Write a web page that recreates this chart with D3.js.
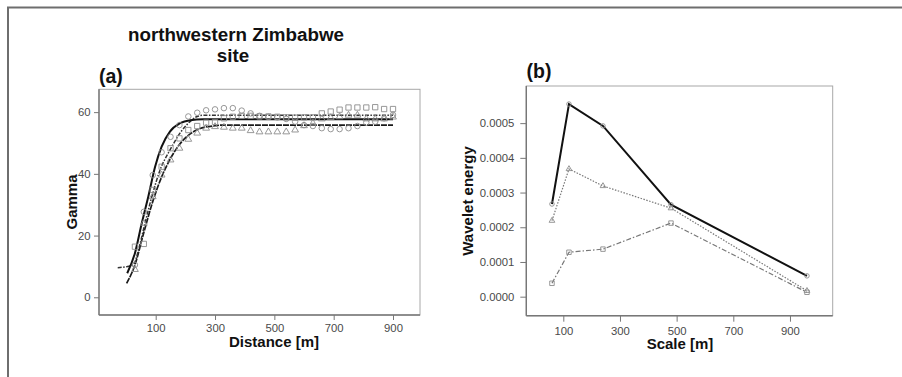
<!DOCTYPE html>
<html>
<head>
<meta charset="utf-8">
<script src="https://cdn.jsdelivr.net/npm/d3@7"></script>
<style>
  body { margin: 0; background: #fff; }
  svg { display: block; }
  text { font-family: Arial, "Liberation Sans", sans-serif; }
</style>
</head>
<body>
<svg id="chart" width="902" height="377"></svg>
<script>
// ---- Panel (a): empirical semivariograms and fitted models ----
const lagDistance = [30, 60, 90, 120, 150, 180, 210, 240, 270, 300,
                     330, 360, 390, 420, 450, 480, 510, 540, 570, 600,
                     630, 660, 690, 720, 750, 780, 810, 840, 870, 900];
const gammaCircle = [10.5, 27.7, 39.6, 47.0, 52.0, 55.8, 58.6, 59.8, 60.6, 60.9,
                     61.3, 61.3, 60.5, 59.6, 58.8, 58.5, 58.3, 57.8, 56.9, 55.8,
                     55.5, 54.8, 54.5, 54.5, 54.8, 55.5, 56.6, 56.9, 58.0, 59.1];
const gammaSquare = [16.4, 17.3, 34.8, 42.3, 48.3, 51.5, 54.2, 55.5, 56.6, 56.8,
                     58.0, 58.5, 58.8, 58.8, 58.6, 58.6, 58.5, 58.3, 58.2, 58.3,
                     58.3, 59.6, 60.2, 60.8, 61.5, 61.5, 61.5, 61.6, 61.0, 61.0];
const gammaTriangle = [9.0, 24.0, 32.6, 39.6, 44.5, 48.3, 51.2, 53.2, 54.8, 55.3,
                       55.1, 54.8, 54.8, 54.0, 53.6, 53.6, 53.6, 53.6, 54.2, 55.6,
                       56.4, 57.8, 58.2, 58.5, 59.0, 59.0, 57.8, 57.8, 57.8, 58.4];
// fitted model curves, [distance, gamma]
const fitCircle = [[4, 7.8], [30, 14.3], [53, 24], [75, 32.6], [98, 42.3], [120, 48.8],
                   [148, 53.7], [182, 56.4], [216, 57.4], [260, 57.7], [900, 57.7]];
const fitSquare = [[-28, 9.6], [0, 9.9], [25, 10.6], [45, 16.5], [64, 24], [87, 32.6],
                   [115, 41.3], [148, 47.7], [182, 53.2], [210, 56.4], [238, 58.5],
                   [262, 59.0], [900, 59.0]];
const fitTriangle = [[2, 4.5], [30, 10.5], [60, 21], [90, 31], [120, 39], [150, 45],
                     [180, 49.5], [210, 52.5], [240, 54.3], [270, 55.2], [300, 55.6],
                     [324, 55.8], [900, 55.8]];
const distTicks = [100, 300, 500, 700, 900];
const gammaTicks = [0, 20, 40, 60];

// ---- Panel (b): wavelet energy by scale ----
const scaleM = [60, 120, 240, 480, 960];
const energyCircle = [0.000267, 0.000555, 0.000492, 0.000265, 0.000060];
const energyTriangle = [0.000219, 0.000368, 0.000319, 0.000255, 0.000017];
const energySquare = [0.0000386, 0.000128, 0.000137, 0.000212, 0.0000127];
const scaleTicks = [100, 300, 500, 700, 900];
const energyTicks = [0, 0.0001, 0.0002, 0.0003, 0.0004, 0.0005];

const svg = d3.select("#chart");
svg.append("rect").attr("width", 902).attr("height", 377).attr("fill", "#fff");

// outer frame (top and left edges)
svg.append("path").attr("d", "M8,377V7.5H902")
  .attr("fill", "none").attr("stroke", "#6e6e6e").attr("stroke-width", 2);

const ptColor = "#8c8c8c";
const symCircle = d3.symbol().type(d3.symbolCircle).size(24);
const symSquare = d3.symbol().type(d3.symbolSquare).size(28);
const symTriangle = d3.symbol().type(d3.symbolTriangle).size(20);

function frame(g, box, x, y, xt, yt, yfmt, tickLen, yPad, xPad) {
  g.append("rect")
    .attr("x", box.l).attr("y", box.t)
    .attr("width", box.r - box.l).attr("height", box.b - box.t)
    .attr("fill", "none").attr("stroke", "#a8a8a8").attr("stroke-width", 1);
  g.append("line").attr("x1", box.l).attr("x2", box.l).attr("y1", box.t).attr("y2", box.b)
    .attr("stroke", "#777").attr("stroke-width", 1.4);
  g.append("line").attr("x1", box.l).attr("x2", box.r).attr("y1", box.b).attr("y2", box.b)
    .attr("stroke", "#777").attr("stroke-width", 1.4);

  const ax = g.append("g").attr("transform", `translate(0,${box.b})`)
    .call(d3.axisBottom(x).tickValues(xt).tickSize(tickLen).tickPadding(xPad).tickFormat(d3.format("d")));
  const ay = g.append("g").attr("transform", `translate(${box.l},0)`)
    .call(d3.axisLeft(y).tickValues(yt).tickSize(tickLen).tickPadding(yPad).tickFormat(yfmt));
  [ax, ay].forEach(a => {
    a.select(".domain").remove();
    a.selectAll(".tick line").attr("stroke", "#777");
    a.selectAll(".tick text").attr("fill", "#4a4a4a").attr("font-size", 11.3)
      .attr("font-family", "Arial, 'Liberation Sans', sans-serif");
  });
}

// ---------- panel (a) ----------
const boxA = { l: 99, r: 420, t: 89.3, b: 315 };
const xA = d3.scaleLinear().domain([-91.1, 991]).range([boxA.l, boxA.r]);
const yA = d3.scaleLinear().domain([-5.74, 67.4]).range([boxA.b, boxA.t]);
const gA = svg.append("g");
frame(gA, boxA, xA, yA, distTicks, gammaTicks, d3.format("d"), 5, 3.5, 4);

const lineA = d3.line().x(d => xA(d[0])).y(d => yA(d[1])).curve(d3.curveMonotoneX);
gA.append("path").datum(fitTriangle).attr("d", lineA)
  .attr("fill", "none").attr("stroke", "#1a1a1a").attr("stroke-width", 1.7)
  .attr("stroke-dasharray", "6,1");
gA.append("path").datum(fitSquare).attr("d", lineA)
  .attr("fill", "none").attr("stroke", "#333").attr("stroke-width", 1.5)
  .attr("stroke-dasharray", "4,1.5,1.5,1.5");
gA.append("path").datum(fitCircle).attr("d", lineA)
  .attr("fill", "none").attr("stroke", "#111").attr("stroke-width", 2);

function pts(g, xs, ys, sym, x, y) {
  g.append("g").selectAll("path").data(xs.map((d, i) => [d, ys[i]])).join("path")
    .attr("d", sym)
    .attr("transform", d => `translate(${x(d[0])},${y(d[1])})`)
    .attr("fill", "none").attr("stroke", ptColor).attr("stroke-width", 0.9);
}
pts(gA, lagDistance, gammaCircle, symCircle, xA, yA);
pts(gA, lagDistance, gammaSquare, symSquare, xA, yA);
pts(gA, lagDistance, gammaTriangle, symTriangle, xA, yA);

gA.append("text").attr("x", 236).attr("y", 40.5).attr("text-anchor", "middle")
  .attr("font-weight", "bold").attr("font-size", 18.8).attr("fill", "#111")
  .text("northwestern Zimbabwe");
gA.append("text").attr("x", 233).attr("y", 61.5).attr("text-anchor", "middle")
  .attr("font-weight", "bold").attr("font-size", 18.8).attr("fill", "#111").text("site");
gA.append("text").attr("x", 99).attr("y", 82.5)
  .attr("font-weight", "bold").attr("font-size", 19.5).attr("fill", "#111").text("(a)");
gA.append("text").attr("x", 274).attr("y", 347).attr("text-anchor", "middle")
  .attr("font-weight", "bold").attr("font-size", 15).attr("fill", "#111").text("Distance [m]");
gA.append("text").attr("transform", "translate(77,202) rotate(-90)").attr("text-anchor", "middle")
  .attr("font-weight", "bold").attr("font-size", 15).attr("fill", "#111").text("Gamma");

// ---------- panel (b) ----------
const boxB = { l: 526.3, r: 832.7, t: 86, b: 315.7 };
const xB = d3.scaleLinear().domain([-30.6, 1050.8]).range([boxB.l, boxB.r]);
const yB = d3.scaleLinear().domain([-0.0000548, 0.000607]).range([boxB.b, boxB.t]);
const gB = svg.append("g");
frame(gB, boxB, xB, yB, scaleTicks, energyTicks, d3.format(".4f"), 6, 6, 5);

const lineB = d3.line().x((d, i) => xB(scaleM[i])).y(d => yB(d));
gB.append("path").datum(energySquare).attr("d", lineB)
  .attr("fill", "none").attr("stroke", "#777").attr("stroke-width", 1.2)
  .attr("stroke-dasharray", "5,2,1.5,2");
gB.append("path").datum(energyTriangle).attr("d", lineB)
  .attr("fill", "none").attr("stroke", "#777").attr("stroke-width", 1.2)
  .attr("stroke-dasharray", "1.5,1.5");
gB.append("path").datum(energyCircle).attr("d", lineB)
  .attr("fill", "none").attr("stroke", "#111").attr("stroke-width", 2);

const smallCircle = d3.symbol().type(d3.symbolCircle).size(16);
const smallSquare = d3.symbol().type(d3.symbolSquare).size(20);
const smallTriangle = d3.symbol().type(d3.symbolTriangle).size(14);
pts(gB, scaleM, energyCircle, smallCircle, xB, yB);
pts(gB, scaleM, energyTriangle, smallTriangle, xB, yB);
pts(gB, scaleM, energySquare, smallSquare, xB, yB);

gB.append("text").attr("x", 526.5).attr("y", 78)
  .attr("font-weight", "bold").attr("font-size", 19.5).attr("fill", "#111").text("(b)");
gB.append("text").attr("x", 680).attr("y", 349).attr("text-anchor", "middle")
  .attr("font-weight", "bold").attr("font-size", 15).attr("fill", "#111").text("Scale [m]");
gB.append("text").attr("transform", "translate(473,201) rotate(-90)").attr("text-anchor", "middle")
  .attr("font-weight", "bold").attr("font-size", 15).attr("fill", "#111").text("Wavelet energy");
</script>
</body>
</html>
